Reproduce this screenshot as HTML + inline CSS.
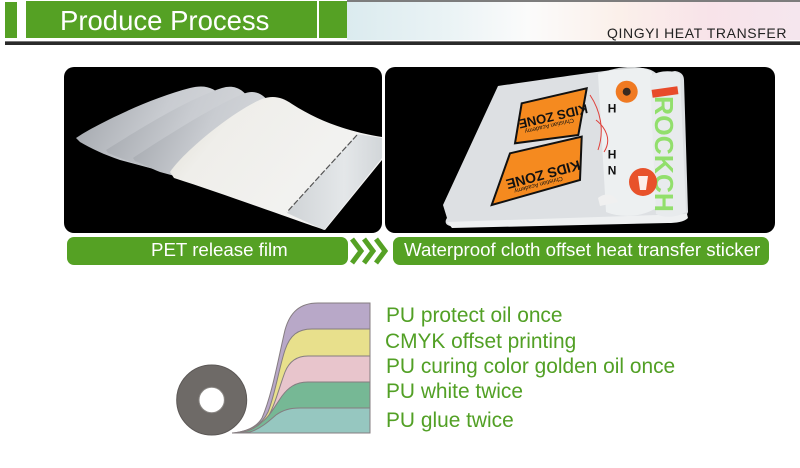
<!DOCTYPE html>
<html><head><meta charset="utf-8">
<style>
html,body{margin:0;padding:0;background:#fff;}
body{width:800px;height:468px;position:relative;overflow:hidden;font-family:"Liberation Sans",Arial,sans-serif;}
.t{position:absolute;white-space:nowrap;line-height:1;}
.g{color:#52a025;font-size:20.9px;left:386px;}
</style></head><body>
<svg width="800" height="468" style="position:absolute;left:0;top:0" xmlns="http://www.w3.org/2000/svg">
<defs>
<linearGradient id="hdr" x1="0" x2="1" y1="0" y2="0">
 <stop offset="0" stop-color="#dbebef"/>
 <stop offset="0.22" stop-color="#eaf3f5"/>
 <stop offset="0.4" stop-color="#fbfbfb"/>
 <stop offset="0.6" stop-color="#fbf0ea"/>
 <stop offset="0.8" stop-color="#f8e3e9"/>
 <stop offset="1" stop-color="#f5e6ee"/>
</linearGradient>
<linearGradient id="gs" x1="0" y1="0" x2="1" y2="0.3">
 <stop offset="0" stop-color="#9ea2a8"/>
 <stop offset="0.5" stop-color="#c9ccd1"/>
 <stop offset="1" stop-color="#d9dbde"/>
</linearGradient>
<linearGradient id="gw" x1="0" y1="0" x2="1" y2="0.5">
 <stop offset="0" stop-color="#dcdacf"/>
 <stop offset="0.3" stop-color="#efeeea"/>
 <stop offset="1" stop-color="#f4f4f3"/>
</linearGradient>
<linearGradient id="gr" x1="0" y1="0" x2="1" y2="0">
 <stop offset="0" stop-color="#cfd3d6"/>
 <stop offset="0.6" stop-color="#e4e7e9"/>
 <stop offset="1" stop-color="#d2d6d9"/>
</linearGradient>
</defs>

<!-- header -->
<rect x="347" y="2" width="453" height="38" fill="url(#hdr)"/>
<rect x="347" y="0" width="453" height="2" fill="#7d7d7d"/>
<rect x="5" y="2" width="12" height="36" fill="#55a124"/>
<rect x="26" y="1" width="291" height="37" fill="#55a124"/>
<rect x="319" y="1" width="28" height="37" fill="#55a124"/>
<rect x="5" y="41" width="795" height="1" fill="#777"/>
<rect x="5" y="42" width="795" height="3" fill="#2a2a2a"/>

<!-- left photo -->
<rect x="64" y="67" width="318" height="166" rx="10" fill="#000"/>
<path d="M76,138 C95,125 150,98 190,88 C205,84 215,88 222,97 L262,198 L120,160 C105,155 90,148 80,142 Z" fill="url(#gs)"/>
<path d="M106,150 C130,135 185,100 222,88 C235,84 244,90 250,100 L285,205 L140,165 C125,160 115,156 108,153 Z" fill="url(#gs)"/>
<path d="M133,158 C160,140 215,105 243,94 C255,89 264,94 270,104 L300,210 L160,172 C150,168 140,163 135,161 Z" fill="url(#gs)"/>
<path d="M170,172 C185,150 235,110 262,99 C273,95 282,97 292,104 C320,122 350,132 382,137 L382,160 L325,230 C300,222 230,196 174,178 Z" fill="url(#gw)"/>
<path d="M357,134 L382,138 L382,158 L324,230 L287,213 Z" fill="url(#gr)"/>
<line x1="357" y1="135" x2="287" y2="212" stroke="#555" stroke-width="1.2" stroke-dasharray="6 2"/>

<!-- right photo -->
<rect x="385" y="67" width="390" height="166" rx="10" fill="#000"/>
<path d="M443,205 L498,86 C540,80 580,74 612,70 L640,68 C650,68 655,72 657,74 L675,71 C682,72 684,76 684,80 L688,212 C686,218 680,220 670,221 L452,226 C446,226 444,222 447,218 Z" fill="#dde0e3"/>
<path d="M447,222 L687,214 L688,218 C684,222 676,223 668,223 L452,228 Z" fill="#eef0f1"/>
<path d="M598,74 C618,66 640,64 652,72 L660,205 C645,218 620,218 606,212 Z" fill="#f0f2f3" opacity="0.85"/>
<path d="M650,76 C660,70 672,70 680,74 L686,212 C676,218 664,218 656,214 Z" fill="#e8ebed"/>
<polygon points="521.7,103.3 586.7,88.3 578.3,135 515,143.3" fill="#f58a1f" stroke="#111" stroke-width="2"/>
<polygon points="510,153.3 581.7,136.7 580,180 491.7,205" fill="#f58a1f" stroke="#111" stroke-width="2"/>
<text x="0" y="0" transform="translate(552,112) rotate(167)" font-family="Liberation Sans, sans-serif" font-weight="bold" font-size="13" fill="#111" text-anchor="middle">KIDS ZONE</text>
<text x="0" y="0" transform="translate(549,124) rotate(167)" font-family="Liberation Sans, sans-serif" font-size="6" fill="#111" text-anchor="middle">Christian Academy</text>
<text x="0" y="0" transform="translate(542,170) rotate(165)" font-family="Liberation Sans, sans-serif" font-weight="bold" font-size="14" fill="#111" text-anchor="middle">KIDS ZONE</text>
<text x="0" y="0" transform="translate(538,183) rotate(165)" font-family="Liberation Sans, sans-serif" font-size="6" fill="#111" text-anchor="middle">Christian Academy</text>
<path d="M590,95 C600,110 605,130 598,150" stroke="#e0403a" stroke-width="1" fill="none"/>
<path d="M596,120 C606,128 612,140 604,152" stroke="#e0403a" stroke-width="1" fill="none"/>
<circle cx="626.7" cy="91.7" r="11" fill="#f07a22"/>
<circle cx="626.7" cy="91.7" r="4" fill="#3a2a20"/>
<text x="0" y="0" transform="translate(612,104) rotate(180)" font-family="Liberation Sans, sans-serif" font-weight="bold" font-size="12" fill="#111" text-anchor="middle">H</text>
<text x="0" y="0" transform="translate(612,150) rotate(180)" font-family="Liberation Sans, sans-serif" font-weight="bold" font-size="12" fill="#111" text-anchor="middle">H</text>
<text x="0" y="0" transform="translate(612,166) rotate(180)" font-family="Liberation Sans, sans-serif" font-weight="bold" font-size="12" fill="#111" text-anchor="middle">N</text>
<text x="0" y="0" transform="translate(655,96) rotate(90)" font-family="Liberation Sans, sans-serif" font-weight="bold" font-size="26" fill="#92df6c" textLength="116" lengthAdjust="spacingAndGlyphs">ROCKCH</text>
<rect x="652" y="88" width="26" height="8" fill="#e84a2a" transform="rotate(-8 665 92)"/>
<circle cx="643" cy="182" r="14" fill="#e8522b"/>
<path d="M638,176 L648,176 L646,190 L640,190 Z" fill="#fff" opacity="0.9"/>
<path d="M598,198 C605,192 615,194 618,202 L600,206 Z" fill="#f0f0f0"/>

<!-- buttons -->
<rect x="67" y="237" width="281" height="28" rx="7" fill="#55a124"/>
<rect x="393" y="237" width="376" height="28" rx="7" fill="#55a124"/>
<g stroke="#55a124" stroke-width="5" fill="none" stroke-linejoin="miter">
<polyline points="352,239 361,251 352,263"/>
<polyline points="364,239 373,251 364,263"/>
<polyline points="376,239 385,251 376,263"/>
</g>

<!-- diagram -->
<circle cx="211.7" cy="400" r="35" fill="#6e6a67" stroke="#5c5856" stroke-width="1"/>
<circle cx="211.7" cy="400" r="12.7" fill="#fff" stroke="#8a8784" stroke-width="1"/>
<g stroke="#857d80" stroke-width="1">
<path d="M370,303 L318,303 C300,303 290,312 285,330 C278,360 272,395 262,418 C256,428 245,432 232,433 L370,433 Z" fill="#b8a8c8"/>
<path d="M370,329 L312,329 C298,329 290,335 285,350 C279,368 275,395 268,412 C262,425 250,431 234,433 L370,433 Z" fill="#e8e08c"/>
<path d="M370,356 L308,356 C296,356 289,362 285,372 C279,388 275,405 268,417 C262,427 250,432 236,433 L370,433 Z" fill="#e8c5cc"/>
<path d="M370,382 L308,382 C295,382 288,388 282,396 C275,406 270,416 262,422 C256,428 248,432 238,433 L370,433 Z" fill="#76b895"/>
<path d="M370,408 L300,408 C290,408 283,410 276,415 C268,422 260,429 250,432 C246,433 242,433 238,433 L370,433 Z" fill="#96c7c0"/>
</g>
</svg>

<div class="t" style="left:60px;top:7.4px;font-size:27.5px;color:#fff;">Produce Process</div>
<div class="t" style="left:607px;top:25.5px;font-size:14px;letter-spacing:0.6px;color:#222;">QINGYI HEAT TRANSFER</div>
<div class="t" style="left:151px;top:240.9px;font-size:18.7px;color:#fff;">PET release film</div>
<div class="t" style="left:404px;top:240.9px;font-size:18.7px;color:#fff;">Waterproof cloth offset heat transfer sticker</div>

<div class="t g" style="top:305.8px;">PU protect oil once</div>
<div class="t g" style="top:331.8px;left:385px;">CMYK offset printing</div>
<div class="t g" style="top:356.8px;">PU curing color golden oil once</div>
<div class="t g" style="top:381.8px;">PU white twice</div>
<div class="t g" style="top:410.8px;">PU glue twice</div>
</body></html>
